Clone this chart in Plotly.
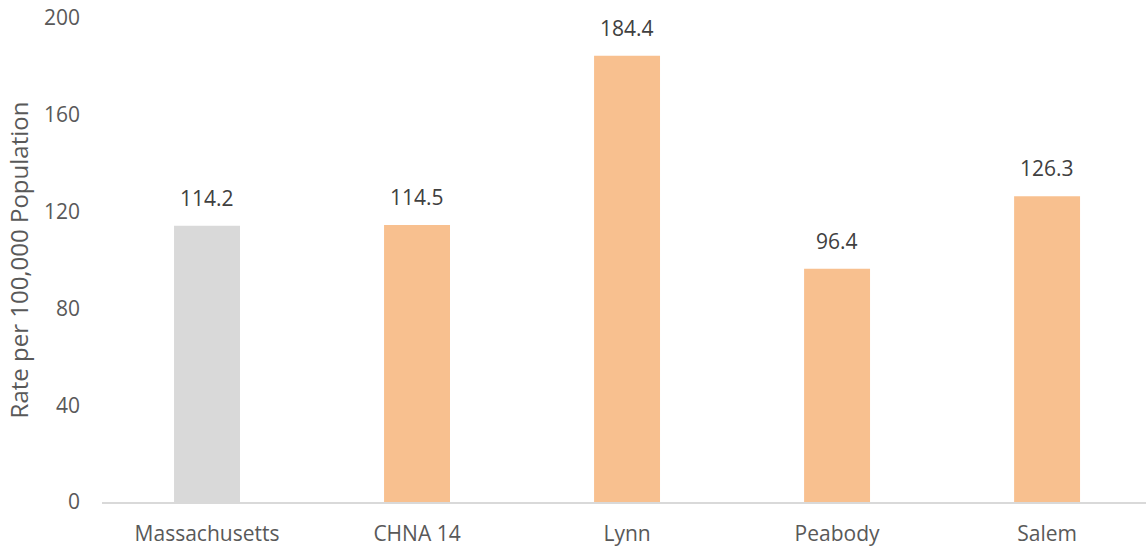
import plotly.graph_objects as go

# Rate per 100,000 population by area
areas = ["Massachusetts", "CHNA 14", "Lynn", "Peabody", "Salem"]
rates = [114.2, 114.5, 184.4, 96.4, 126.3]
bar_colors = ["#D9D9D9", "#F8C08F", "#F8C08F", "#F8C08F", "#F8C08F"]
y_ticks = [0, 40, 80, 120, 160, 200]

FONT = "Open Sans"
TICK_COLOR = "#595959"
LABEL_COLOR = "#404040"

fig = go.Figure(
    go.Bar(
        x=areas,
        y=rates,
        marker=dict(color=bar_colors, line=dict(width=0)),
        width=0.314,
        hoverinfo="x+y",
    )
)

# value labels above each bar
for a, v in zip(areas, rates):
    fig.add_annotation(
        x=a, y=v, text=f"{v:.1f}", showarrow=False,
        yanchor="bottom", yshift=12,
        font=dict(family=FONT, size=21, color=LABEL_COLOR),
    )

fig.update_layout(
    width=1146, height=548,
    margin=dict(l=102, r=0, t=18, b=46),
    paper_bgcolor="white", plot_bgcolor="white",
    showlegend=False,
    font=dict(family=FONT, size=21, color=TICK_COLOR),
)
fig.update_xaxes(
    type="category",
    range=[-0.5, 4.471],
    showline=True, linecolor="#D9D9D9", linewidth=1.5,
    showgrid=False, ticks="", zeroline=False,
    ticklabelstandoff=12,
    tickfont=dict(family=FONT, size=21, color=TICK_COLOR),
)
fig.update_yaxes(
    range=[0, 200], tickvals=y_ticks,
    showgrid=False, zeroline=False, showline=False, ticks="",
    ticklabelstandoff=21,
    tickfont=dict(family=FONT, size=21, color=TICK_COLOR),
    title=dict(text="Rate per 100,000 Population", standoff=8,
               font=dict(family=FONT, size=24, color=TICK_COLOR)),
)

fig.write_html("out.html")
